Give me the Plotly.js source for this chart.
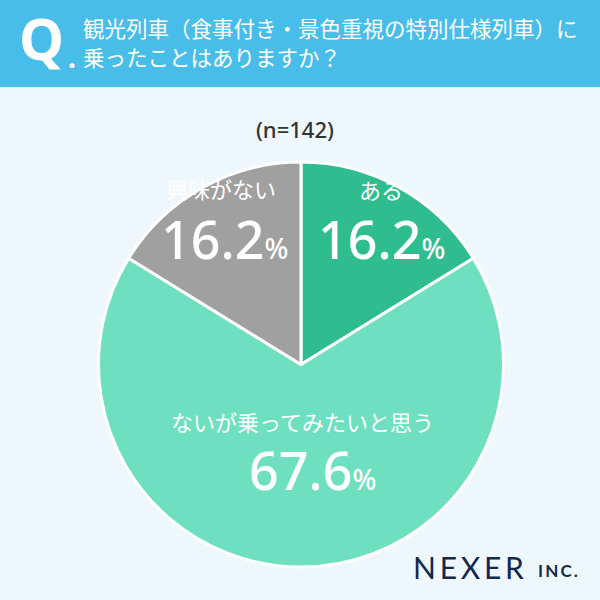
<!DOCTYPE html>
<html>
<head>
<meta charset="utf-8">
<script src="https://cdn.plot.ly/plotly-3.0.1.min.js"></script>
<style>html,body{margin:0;padding:0;background:#eef7fb;}#chart{width:600px;height:600px;}</style>
</head>
<body>
<div id="chart"></div>
<script>
const labels = ["ある", "ないが乗ってみたいと思う", "興味がない"];
const values = [16.2, 67.6, 16.2];
const colors = ["#2fbc8e", "#6fe0bf", "#a0a0a0"];
const sampleSize = 142;
const questionLines = ["観光列車（食事付き・景色重視の特別仕様列車）に", "乗ったことはありますか？"];

// label placement (pixel centres) for each slice: [labelX, labelY, valueX, valueY]
const labelPos = [[381, 189, 381, 238], [302, 421, 313, 469], [221, 188, 224, 238]];

const jp = "Noto Sans CJK JP, Noto Sans, sans-serif";
const px = (x) => x / 600, py = (y) => 1 - y / 600;

const annotations = [];
labels.forEach((lab, i) => {
  const p = labelPos[i];
  annotations.push({x: px(p[0]), y: py(p[1]), xref: "paper", yref: "paper", xanchor: "center", yanchor: "middle",
    showarrow: false, text: lab, font: {family: jp, size: 22, color: "#ffffff"}});
  annotations.push({x: px(p[2]), y: py(p[3]), xref: "paper", yref: "paper", xanchor: "center", yanchor: "middle",
    showarrow: false, text: values[i].toFixed(1) + '<span style="font-size:28px">%</span>',
    font: {family: "Noto Sans, sans-serif", size: 52, color: "#ffffff", weight: 500}});
});
annotations.push({x: px(295), y: py(129), xref: "paper", yref: "paper", xanchor: "center", yanchor: "middle",
  showarrow: false, text: "(n=" + sampleSize + ")", font: {family: "Noto Sans, sans-serif", size: 22, color: "#333333", weight: 500}});
annotations.push({x: px(17), y: py(38), xref: "paper", yref: "paper", xanchor: "left", yanchor: "middle",
  showarrow: false, text: "<b>Q</b>", font: {family: "Noto Sans, sans-serif", size: 57, color: "#ffffff"}});
annotations.push({x: px(66), y: py(57), xref: "paper", yref: "paper", xanchor: "left", yanchor: "middle",
  showarrow: false, text: "<b>.</b>", font: {family: "Noto Sans, sans-serif", size: 28, color: "#ffffff"}});
questionLines.forEach((t, i) => {
  annotations.push({x: px(81), y: py(28 + i * 28), xref: "paper", yref: "paper", xanchor: "left", yanchor: "middle",
    showarrow: false, text: t, font: {family: jp, size: 21.5, color: "#ffffff"}});
});
annotations.push({x: px(411), y: py(567), xref: "paper", yref: "paper", xanchor: "left", yanchor: "middle",
  showarrow: false, text: "N\u2009E\u2009X\u2009E\u2009R", font: {family: "Lato, sans-serif", size: 30, color: "#14284a"}});
annotations.push({x: px(536), y: py(570), xref: "paper", yref: "paper", xanchor: "left", yanchor: "middle",
  showarrow: false, text: "<b>I\u2009N\u2009C\u2009.</b>", font: {family: "Lato, sans-serif", size: 17, color: "#14284a"}});

const trace = {
  type: "pie", labels: labels, values: values, sort: false, direction: "clockwise", rotation: 0,
  marker: {colors: colors, line: {color: "#ffffff", width: 3}},
  textinfo: "none", hoverinfo: "none", showlegend: false,
  domain: {x: [px(98), px(504)], y: [py(567), py(162)]}
};

const layout = {
  width: 600, height: 600, margin: {l: 0, r: 0, t: 0, b: 0},
  paper_bgcolor: "#eef7fb", plot_bgcolor: "#eef7fb", showlegend: false,
  shapes: [{type: "rect", xref: "paper", yref: "paper", x0: 0, x1: 1, y0: py(87), y1: 1, fillcolor: "#49bdea", line: {width: 0}, layer: "below"}],
  annotations: annotations
};
Plotly.newPlot("chart", [trace], layout, {staticPlot: true, displayModeBar: false});
</script>
</body>
</html>
